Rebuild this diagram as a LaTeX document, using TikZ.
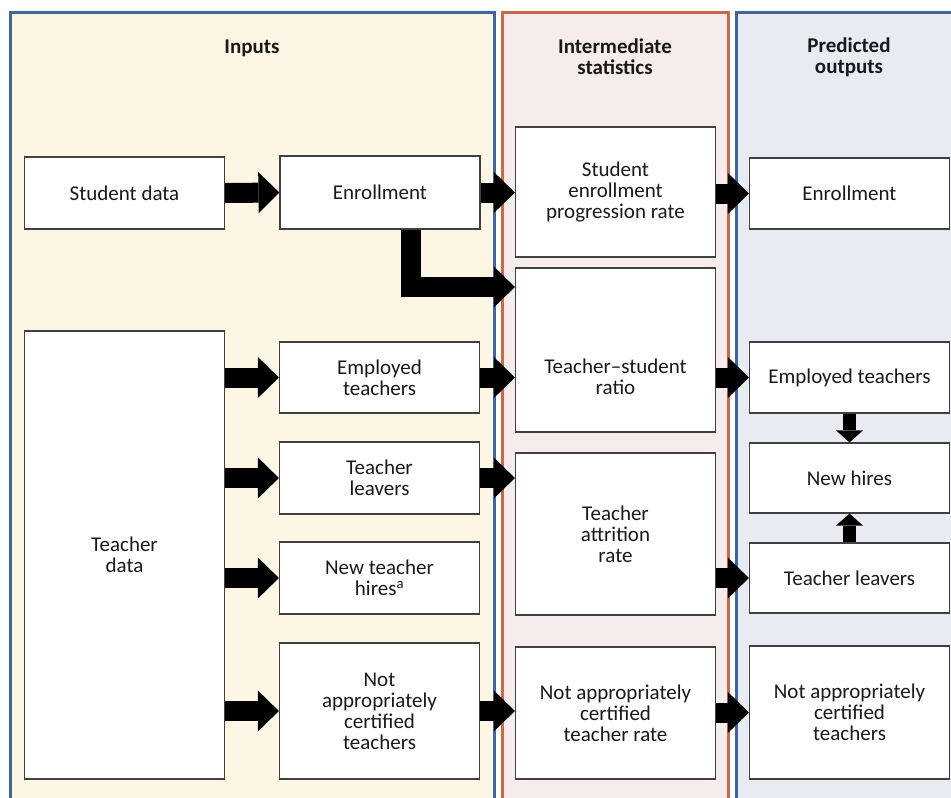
\documentclass[tikz,border=0pt]{standalone}
\usepackage{fontspec}
\setmainfont{Carlito}
\usetikzlibrary{arrows.meta}
\definecolor{panelblue}{HTML}{41679A}
\definecolor{panelred}{HTML}{C9694A}
\definecolor{inputfill}{HTML}{FDF6E4}
\definecolor{interfill}{HTML}{F5ECEB}
\definecolor{outfill}{HTML}{E8EBF1}
\begin{document}
\begin{tikzpicture}[x=1pt,y=-1pt,
  every node/.style={font=\fontsize{21}{21}\selectfont, text=black!90},
  box/.style={draw=black!75, line width=1.2pt, fill=white, minimum width=200pt, align=center, inner sep=0pt},
  head/.style={font=\fontsize{21}{21}\selectfont\bfseries, align=center},
  bigarrow/.style={line width=20pt, -{Triangle[width=41pt,length=21pt,line width=0pt]}},
  smallarrow/.style={line width=13pt, -{Triangle[width=27pt,length=12pt,line width=0pt]}}]
\useasboundingbox (0,0) rectangle (951,798);
\clip (0,0) rectangle (951,798);
\draw[panelblue, line width=3pt, fill=inputfill] (10,812)--(10,12)--(494,12)--(494,812);
\draw[panelred, line width=3pt, fill=interfill] (502,812)--(502,12)--(728,12)--(728,812);
\draw[panelblue, line width=3pt, fill=outfill] (736,812)--(736,12)--(965,12)--(965,812);
\node[head] (hin) at (252,48) {Inputs};
\node[head] (hmid) at (615,57) {Intermediate\\statistics};
\node[head] (hout) at (849,57) {Predicted\\outputs};

\node[box, minimum height=72pt] (sdata) at (124.5,193) {Student data};
\node[box, minimum height=448pt] (tdata) at (124.5,555) {Teacher\\data};
\node[box, minimum height=73pt] (enrin) at (380,192.5) {Enrollment};
\node[box, minimum height=71pt] (empin) at (379.5,377.5) {Employed\\teachers};
\node[box, minimum height=72pt] (lvin) at (379.5,478) {Teacher\\leavers};
\node[box, minimum height=72pt] (hirein) at (379.5,578) {New teacher\\hires\textsuperscript{a}};
\node[box, minimum height=136pt] (nacin) at (379.5,711) {Not\\appropriately\\certified\\teachers};

\node[box, minimum height=130pt] (sepr) at (615.5,192) {Student\\enrollment\\progression rate};
\node[box, minimum height=164pt] (tsr) at (615.5,350) {};
\node[align=center] (tsrtext) at (615.5,377) {Teacher--student\\ratio};
\node[box, minimum height=162pt] (attr) at (615.5,534) {Teacher\\attrition\\rate};
\node[box, minimum height=132pt] (nacr) at (615.5,713) {Not appropriately\\certified\\teacher rate};

\node[box, minimum height=71pt] (enrout) at (849.5,193.5) {Enrollment};
\node[box, minimum height=71pt] (empout) at (849.5,377.5) {Employed teachers};
\node[box, minimum height=70pt] (hireout) at (849.5,478) {New hires};
\node[box, minimum height=70pt] (lvout) at (849.5,578) {Teacher leavers};
\node[box, minimum height=133pt] (nacout) at (849.5,712.5) {Not appropriately\\certified\\teachers};

\draw[bigarrow] (sdata.east) -- (enrin.west);
\draw[bigarrow] (tdata.east |- empin.west) -- (empin.west);
\draw[bigarrow] (tdata.east |- lvin.west) -- (lvin.west);
\draw[bigarrow] (tdata.east |- hirein.west) -- (hirein.west);
\draw[bigarrow] (tdata.east |- nacin.west) -- (nacin.west);
\draw[bigarrow] (enrin.east) -- (enrin.east -| sepr.west);
\draw[bigarrow, line join=miter] ([xshift=31pt]enrin.south) |- ([yshift=63pt]tsr.west);
\draw[bigarrow] (empin.east) -- (empin.east -| tsr.west);
\draw[bigarrow] (lvin.east) -- (lvin.east -| attr.west);
\draw[bigarrow] (nacin.east) -- (nacin.east -| nacr.west);
\draw[bigarrow] (sepr.east |- enrout.west) -- (enrout.west);
\draw[bigarrow] (tsr.east |- empout.west) -- (empout.west);
\draw[bigarrow] (attr.east |- lvout.west) -- (lvout.west);
\draw[bigarrow] (nacr.east |- nacout.west) -- (nacout.west);
\draw[smallarrow] (empout.south) -- (hireout.north);
\draw[smallarrow] (lvout.north) -- (hireout.south);
\end{tikzpicture}
\end{document}
